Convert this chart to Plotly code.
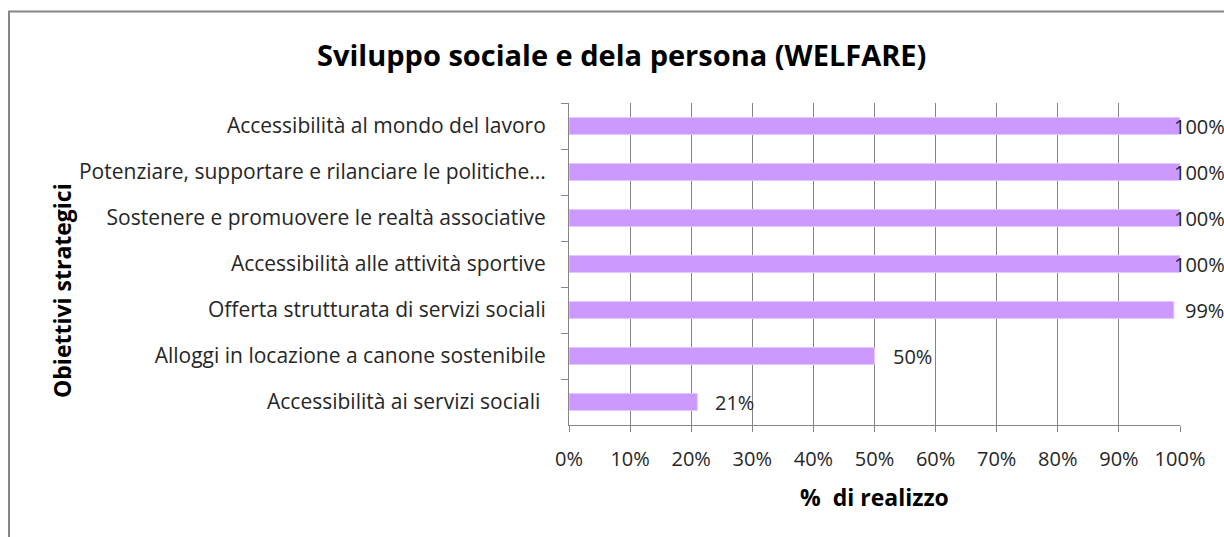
import plotly.graph_objects as go

categories = [
    "Accessibilità al mondo del lavoro",
    "Potenziare, supportare e rilanciare le politiche...",
    "Sostenere e promuovere le realtà associative",
    "Accessibilità alle attività sportive",
    "Offerta strutturata di servizi sociali",
    "Alloggi in locazione a canone sostenibile",
    "Accessibilità ai servizi sociali ",
]
values = [1.00, 1.00, 1.00, 1.00, 0.99, 0.50, 0.21]
value_labels = ["100%", "100%", "100%", "100%", "99%", "50%", "21%"]

title_text = "Sviluppo sociale e dela persona (WELFARE)"
x_title = "%  di realizzo"
y_title = "Obiettivi strategici"

W, H = 1224, 537
L, R, T, B = 569, 44, 103, 112
PW, PH = W - L - R, H - T - B


def px_x(px):
    return (px - L) / PW


def px_y(py):
    return (H - B - py) / PH


def label_shift(v):
    # Excel-like placement: labels pushed left when bars reach the right edge
    if v >= 1:
        return -8
    if v >= 0.9:
        return 9
    return 16


FONT = "Open Sans"
GRAY = "#868686"
TXT = "#262626"

fig = go.Figure()
fig.add_trace(go.Bar(
    x=values,
    y=categories,
    orientation="h",
    marker=dict(color="#CC99FF", line=dict(color="#E2C8FF", width=1)),
    hoverinfo="skip",
))

annotations = []
for v, c, lab in zip(values, categories, value_labels):
    annotations.append(dict(
        x=v, y=c, xref="x", yref="y", text=lab, showarrow=False,
        xanchor="left", yanchor="middle", xshift=label_shift(v),
        font=dict(family=FONT, size=20, color=TXT),
    ))

annotations += [
    dict(x=px_x(621), y=px_y(55), xref="paper", yref="paper", text="<b>" + title_text + "</b>",
         showarrow=False, xanchor="center", yanchor="middle",
         font=dict(family=FONT, size=29, color="#000000")),
    dict(x=px_x(62), y=px_y(291), xref="paper", yref="paper", text="<b>" + y_title + "</b>",
         showarrow=False, xanchor="center", yanchor="middle", textangle=-90,
         font=dict(family=FONT, size=23, color="#000000")),
    dict(x=px_x(874), y=px_y(497), xref="paper", yref="paper", text="<b>" + x_title + "</b>",
         showarrow=False, xanchor="center", yanchor="middle",
         font=dict(family=FONT, size=23, color="#000000")),
]

fig.update_layout(
    width=W, height=H,
    margin=dict(l=L, r=R, t=T, b=B, pad=0),
    paper_bgcolor="white", plot_bgcolor="white",
    showlegend=False,
    bargap=0.63,
    annotations=annotations,
    shapes=[dict(type="rect", xref="paper", yref="paper",
                 x0=px_x(9), x1=px_x(1240), y0=px_y(560), y1=px_y(11.5),
                 line=dict(color=GRAY, width=2), fillcolor="rgba(0,0,0,0)", layer="below")],
)

fig.update_xaxes(
    range=[0, 1], dtick=0.1, tick0=0, tickformat=".0%",
    showgrid=True, gridcolor=GRAY, gridwidth=1,
    showline=True, linecolor=GRAY, linewidth=1,
    ticks="outside", ticklen=6, tickcolor=GRAY,
    ticklabelstandoff=10,
    zeroline=False,
    tickfont=dict(family=FONT, size=20, color=TXT),
    fixedrange=True,
)
fig.update_yaxes(
    autorange="reversed", type="category",
    showgrid=False, showline=True, linecolor=GRAY, linewidth=1,
    ticks="outside", ticklen=7, tickcolor=GRAY, tickson="boundaries",
    ticklabelstandoff=18,
    tickfont=dict(family=FONT, size=21, color=TXT),
    fixedrange=True,
)

fig.write_html("out.html")
